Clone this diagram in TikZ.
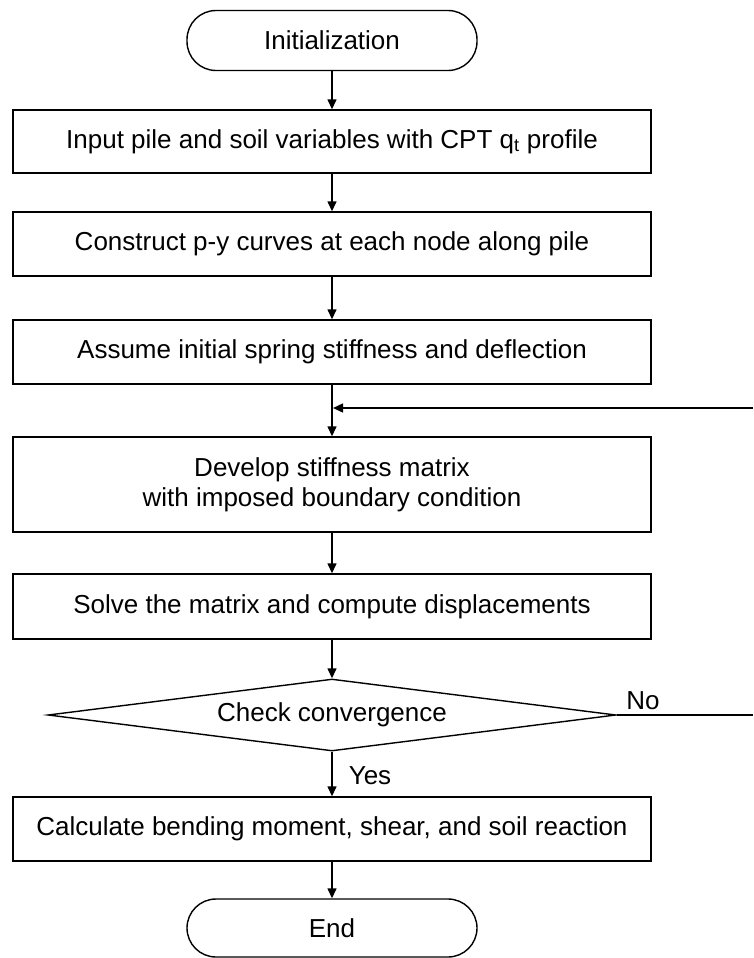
\documentclass[tikz,border=0pt]{standalone}
\usepackage{fontspec}
\setmainfont{Liberation Sans}
\usetikzlibrary{arrows.meta,shapes.geometric}
\tikzset{
  every node/.style={font=\fontsize{26pt}{30pt}\selectfont},
  flow/.style={line width=1.4pt},
  arr/.style={flow,-{Triangle[length=10pt,width=9pt]}},
  stepbox/.style={draw,flow,rectangle,minimum width=638pt,inner sep=0pt,align=center},
  terminal/.style={draw,flow,rectangle,rounded corners=29pt,minimum width=290pt,minimum height=60pt,inner sep=0pt},
  decision/.style={draw,flow,diamond,aspect=7.9,minimum width=568pt,minimum height=72pt,inner sep=0pt},
  lbl/.style={inner sep=0pt}
}
\begin{document}
\begin{tikzpicture}[x=1pt,y=-1pt]
\useasboundingbox (0,0) rectangle (753,958);
\node[terminal] (init) at (332,40.5) {Initialization};
\node[stepbox,minimum height=63pt] (b1) at (332,141.5) {Input pile and soil variables with CPT q\textsubscript{t} profile};
\node[stepbox,minimum height=64pt] (b2) at (332,244) {Construct p-y curves at each node along pile};
\node[stepbox,minimum height=64pt] (b3) at (332,352) {Assume initial spring stiffness and deflection};
\node[stepbox,minimum height=95pt] (b4) at (332,484.5) {Develop stiffness matrix\\with imposed boundary condition};
\node[stepbox,minimum height=65pt] (b5) at (332,606.5) {Solve the matrix and compute displacements};
\node[decision] (dec) at (332,715) {Check convergence};
\node[stepbox,minimum height=64pt] (b6) at (332,829) {Calculate bending moment, shear, and soil reaction};
\node[terminal,minimum height=58pt] (end) at (332,928) {End};
\node[lbl] (yes) at (370,776) {Yes};
\node[lbl] (no) at (643,701) {No};
\coordinate (join) at (332,408);
\coordinate (fb) at (753,408);
\coordinate (noend) at (753,715);
\draw[arr] (init) -- (b1);
\draw[arr] (b1) -- (b2);
\draw[arr] (b2) -- (b3);
\draw[arr] (b3) -- (b4);
\draw[arr,shorten >=1pt] (fb) -- (join);
\draw[arr] (b4) -- (b5);
\draw[arr] (b5) -- (dec);
\draw[flow] (dec.east) -- (noend);
\draw[arr] (dec) -- (b6);
\draw[arr] (b6) -- (end);
\end{tikzpicture}
\end{document}
